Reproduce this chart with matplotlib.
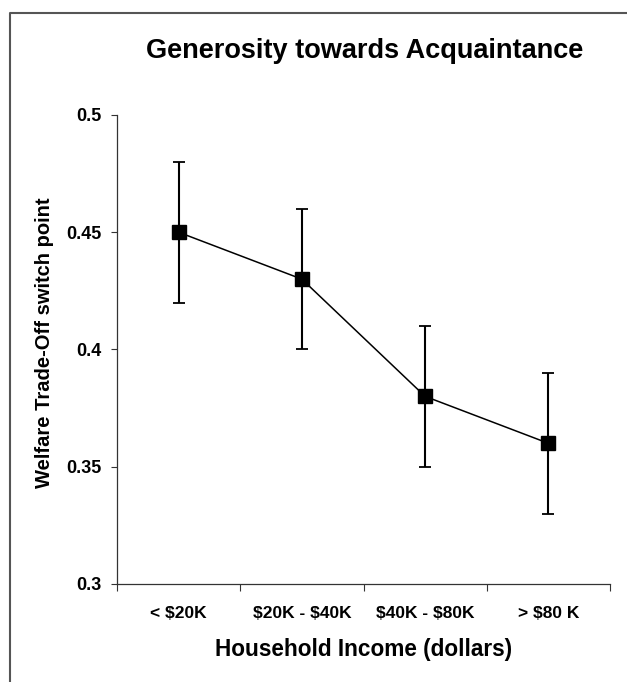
import matplotlib
matplotlib.use('Agg')
import matplotlib.pyplot as plt
from matplotlib.lines import Line2D

plt.rcParams['font.family'] = ['Liberation Sans', 'DejaVu Sans']
plt.rcParams['font.weight'] = 'bold'
plt.rcParams['text.parse_math'] = False   # знаки $ в подписях — обычный текст

# данные графика
categories = ['< $20K', '$20K - $40K', '$40K - $80K', '> $80 K']
switch_point = [0.45, 0.43, 0.38, 0.36]
err_low = [0.03, 0.03, 0.03, 0.03]
err_high = [0.03, 0.03, 0.03, 0.03]
y_ticks = [0.3, 0.35, 0.4, 0.45, 0.5]
y_tick_labels = ['0.3', '0.35', '0.4', '0.45', '0.5']

fig = plt.figure(figsize=(6.27, 6.82), dpi=100)
ax = fig.add_axes([0.1866, 0.1437, 0.7863, 0.6877])

x = list(range(len(categories)))
ax.plot(x, switch_point, color='black', lw=1.1, zorder=2)
ax.errorbar(x, switch_point, yerr=[err_low, err_high], fmt='none',
            ecolor='black', elinewidth=1.5, capsize=4.5, capthick=1.3, zorder=3)
ax.plot(x, switch_point, ls='none', marker='s', ms=10, color='black', zorder=4)

ax.set_xlim(-0.5, len(categories) - 0.5)
ax.set_ylim(0.3, 0.5)

# деления на границах категорий, подписи по центру
ax.set_xticks([i - 0.5 for i in range(len(categories) + 1)])
ax.set_xticklabels([])
ax.set_xticks(x, minor=True)
ax.set_xticklabels(categories, minor=True, fontsize=12.5, fontweight='bold')
ax.tick_params(axis='x', which='minor', length=0, pad=16)
ax.tick_params(axis='x', which='major', length=5, width=0.8, direction='out', colors='#333333')

ax.set_yticks(y_ticks)
ax.set_yticklabels(y_tick_labels, fontsize=13, fontweight='bold')
ax.tick_params(axis='y', length=4, width=0.8, direction='out', pad=7, color='#333333')

for side in ['top', 'right']:
    ax.spines[side].set_visible(False)
for side in ['left', 'bottom']:
    ax.spines[side].set_linewidth(0.9)
    ax.spines[side].set_color('#333333')

ax.set_xlabel('Household Income (dollars)', fontsize=16.3, fontweight='bold', labelpad=12)
ax.set_ylabel('Welfare Trade-Off switch point', fontsize=14.5, fontweight='bold')
ax.yaxis.set_label_coords(-0.128, 0.515)
fig.text(0.581, 0.925, 'Generosity towards Acquaintance', fontsize=19.5,
         fontweight='bold', ha='center', va='center')

# рамка вокруг рисунка
W, H = 627, 682
fig.add_artist(Line2D([10 / W, 10 / W, 1.0], [0.0, 1 - 12.5 / H, 1 - 12.5 / H],
                      transform=fig.transFigure, color='#555555', lw=1.5))

fig.savefig('out.png', dpi=100)
